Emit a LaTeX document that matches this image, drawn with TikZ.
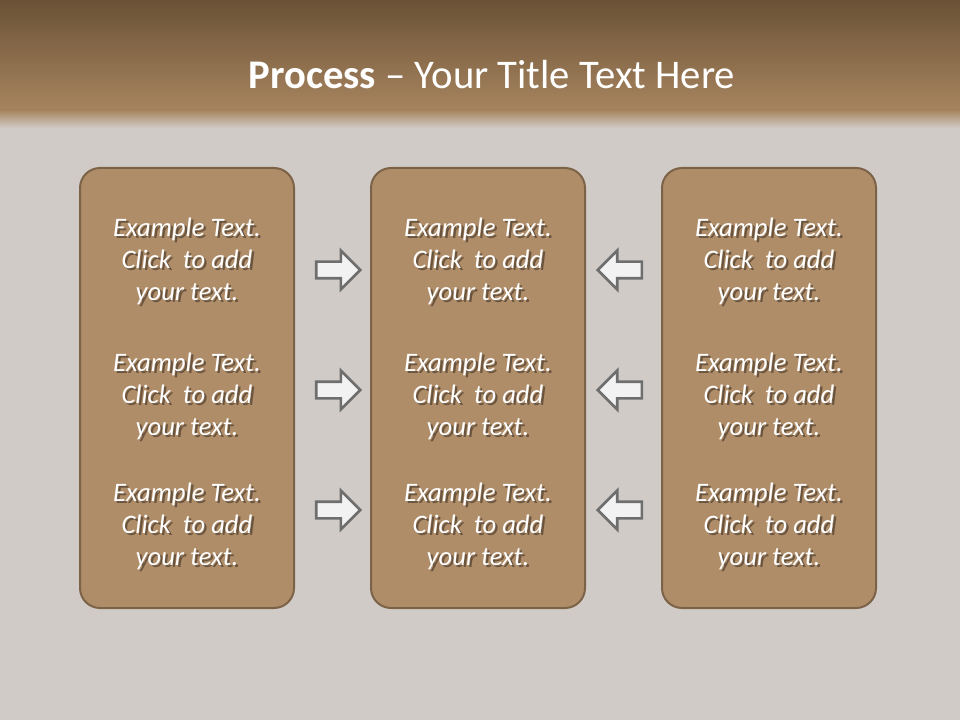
\documentclass[tikz,border=0pt]{standalone}
\usepackage{fontspec}
\setmainfont{Carlito}
\usetikzlibrary{shapes.arrows}
\definecolor{slidebg}{HTML}{D0CBC6}
\definecolor{headtop}{HTML}{6A5236}
\definecolor{headbot}{HTML}{A7845F}
\definecolor{panelfill}{HTML}{B08D69}
\definecolor{paneledge}{HTML}{7C6347}
\definecolor{arrowedge}{HTML}{6E6E6E}
\definecolor{arrowfill}{HTML}{F2F2F2}
\tikzset{
  panel/.style={draw=paneledge, line width=1.5pt, fill=panelfill, rounded corners=15pt,
    minimum width=160.5pt, minimum height=330pt, inner sep=0pt},
  blurb/.style={text=white, align=center, font=\fontsize{20}{24}\selectfont\itshape},
  blurbshadow/.style={blurb, text=black, opacity=0.4},
  blockarrow/.style={single arrow, draw=arrowedge, line width=2pt, fill=arrowfill,
    minimum height=33pt, inner xsep=0pt, inner ysep=5.25pt, single arrow head extend=8.25pt}
}
\begin{document}
\begin{tikzpicture}[x=0.75pt,y=-0.75pt]
  \useasboundingbox (0,0) rectangle (960,720);
  % slide background and header band
  \fill[slidebg] (0,0) rectangle (960,720);
  \shade[top color=headtop, bottom color=headbot] (0,0) rectangle (960,110);
  \shade[top color=headbot, bottom color=slidebg] (0,110) rectangle (960,128);
  \node[text=white, font=\fontsize{30.5}{36}\selectfont] (title) at (492,75)
    {\textbf{Process} -- Your Title Text Here};
  % three panels
  \node[panel] (left) at (187,388) {};
  \node[panel] (mid) at (478,388) {};
  \node[panel] (right) at (769,388) {};
  % texts in the panels
  \foreach \px/\pn in {187/left,478/mid,769/right} {
    \foreach \py/\row in {261/a,396/b,526/c} {
      \node[blurbshadow] at ([xshift=1.8pt,yshift=-1.8pt]\px,\py) {Example Text.\\Click\ \ to add\\your text.};
      \node[blurb] (\pn-\row) at (\px,\py) {Example Text.\\Click\ \ to add\\your text.};
    }
  }
  % arrows pointing to the middle panel
  \foreach \py/\row in {270/a,390/b,510/c} {
    \node[blockarrow] (ra-\row) at (334,\py) {};
    \node[blockarrow, shape border rotate=180] (la-\row) at (624,\py) {};
  }
\end{tikzpicture}
\end{document}
